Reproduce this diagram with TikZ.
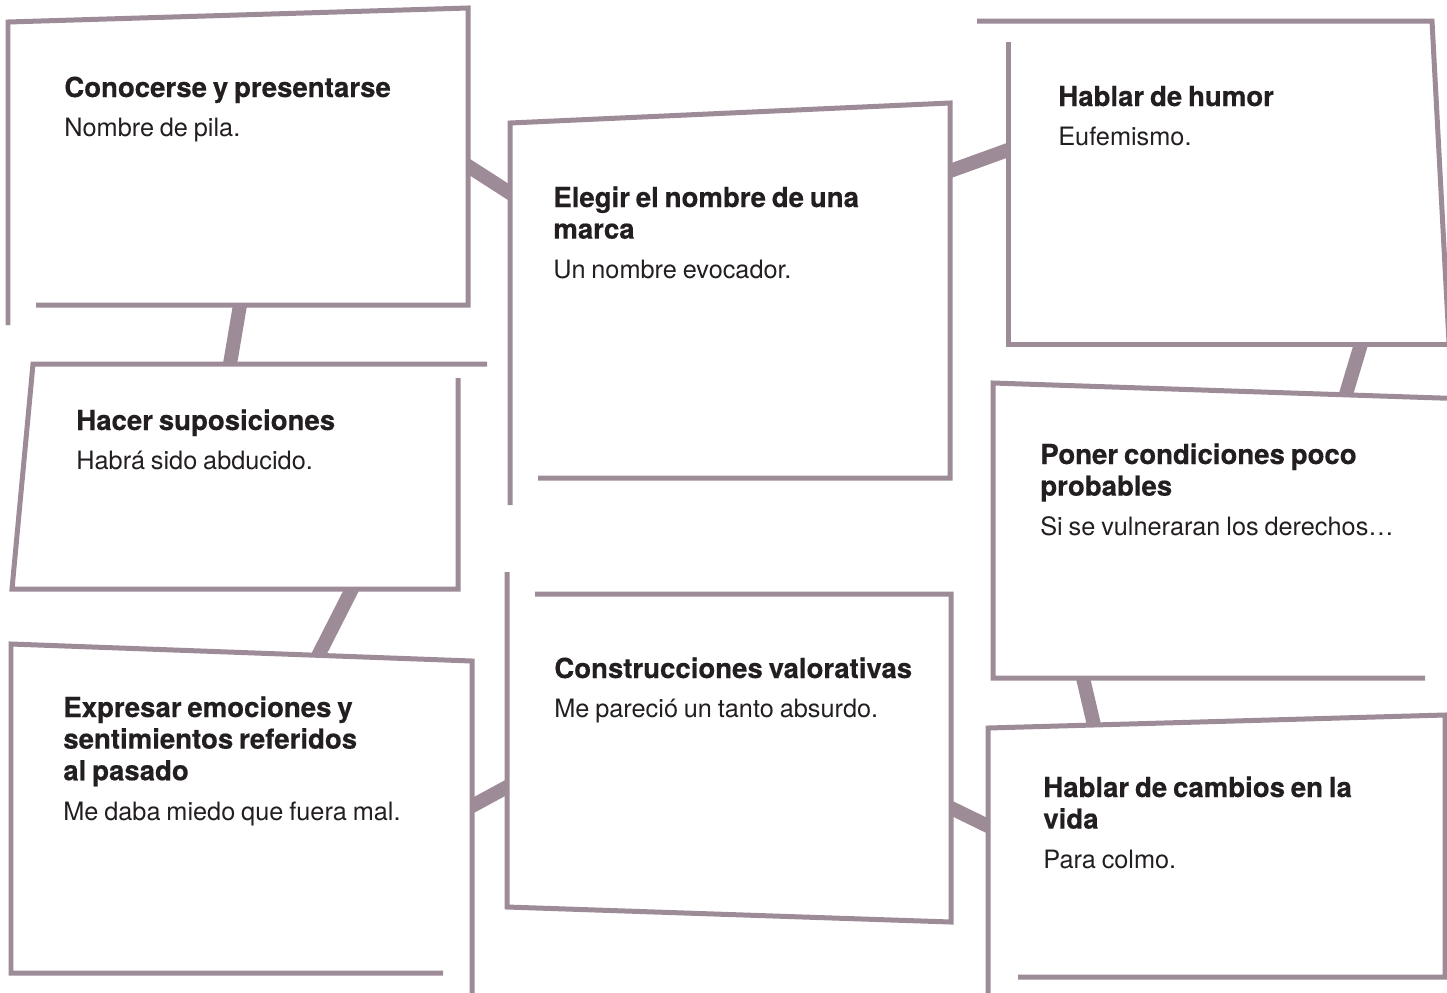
\documentclass[tikz,border=0pt]{standalone}
\usepackage{fontspec}
\setmainfont{TeX Gyre Heros}[BoldFeatures={FakeBold=0.4,WordSpace=1.35}]
\definecolor{edge}{RGB}{157,140,151}
\definecolor{ink}{RGB}{35,31,32}
\newcommand{\boxtitle}[1]{{\fontsize{15.7pt}{18pt}\selectfont\bfseries #1\par}}
\newcommand{\boxsub}[1]{{\fontsize{14.4pt}{22.7pt}\selectfont #1\par}}
\tikzset{
  frame/.style={draw=edge, line width=0.1cm},
  interior/.style={fill=white},
  conn/.style={draw=edge, line width=0.28cm, shorten <=-0.3cm, shorten >=-0.3cm},
  boxtext/.style={anchor=base west, inner sep=0pt, text width=9cm, align=left, text=ink}
}
\begin{document}
\begin{tikzpicture}[x=0.02cm,y=-0.02cm]
\useasboundingbox (0,0) rectangle (1447,992);
\clip (0,0) rectangle (1447,992);
\fill[white] (0,0) rectangle (1447,992);

% connector end points on box edges
\coordinate (a12) at (468,166);  \coordinate (b12) at (510,193);
\coordinate (a23) at (950,171);  \coordinate (b23) at (1008,150);
\coordinate (a14) at (240,305);  \coordinate (b14) at (230,364);
\coordinate (a45) at (352,589);  \coordinate (b45) at (320,652);
\coordinate (a56) at (472,806);  \coordinate (b56) at (507,787);
\coordinate (a37) at (1361,344); \coordinate (b37) at (1346,394);
\coordinate (a78) at (1083,678); \coordinate (b78) at (1094,725);
\coordinate (a68) at (951,808);  \coordinate (b68) at (988,826);

% connectors
\draw[conn] (a12) -- (b12);
\draw[conn] (a23) -- (b23);
\draw[conn] (a14) -- (b14);
\draw[conn] (a45) -- (b45);
\draw[conn] (a56) -- (b56);
\draw[conn] (a37) -- (b37);
\draw[conn] (a78) -- (b78);
\draw[conn] (a68) -- (b68);

% box interiors
\fill[interior] (8,22) -- (468,8) -- (468,305) -- (8,305) -- cycle;
\fill[interior] (510,123) -- (950,103) -- (950,478) -- (510,478) -- cycle;
\fill[interior] (1008,21) -- (1432,21) -- (1449,344) -- (1008,344) -- cycle;
\fill[interior] (33,364) -- (458,364) -- (458,589) -- (12,589) -- cycle;
\fill[interior] (11,644) -- (472,661) -- (472,973) -- (11,973) -- cycle;
\fill[interior] (507,594) -- (951,594) -- (951,922) -- (507,907) -- cycle;
\fill[interior] (993,383) -- (1470,399) -- (1470,678) -- (993,678) -- cycle;
\fill[interior] (988,728) -- (1445,715) -- (1445,977) -- (988,977) -- cycle;

% box frames
\draw[frame] (8,325) -- (8,22) -- (468,8) -- (468,305) -- (36,305);
\draw[frame] (510,505) -- (510,123) -- (950,103) -- (950,478) -- (538,478);
\draw[frame] (977,21) -- (1432,21) -- (1451,380);
\draw[frame] (1008,42) -- (1008,344) -- (1470,344);
\draw[frame] (487,364) -- (33,364) -- (12,589) -- (458,589) -- (458,378);
\draw[frame] (443,973) -- (11,973) -- (11,644) -- (472,661) -- (472,1000);
\draw[frame] (535,594) -- (951,594) -- (951,922) -- (507,907) -- (507,572);
\draw[frame] (1425,678) -- (993,678) -- (993,383) -- (1470,399);
\draw[frame] (1018,977) -- (1445,977) -- (1445,715) -- (988,728) -- (988,1000);

% texts
\node[boxtext] (t1) at (64,97) {\boxtitle{Conocerse y presentarse}\boxsub{Nombre de pila.}};
\node[boxtext] (t2) at (553,207) {\boxtitle{Elegir el nombre de una\\marca}\boxsub{Un nombre evocador.}};
\node[boxtext] (t3) at (1058,106) {\boxtitle{Hablar de humor}\boxsub{Eufemismo.}};
\node[boxtext] (t4) at (76,430) {\boxtitle{Hacer suposiciones}\boxsub{Habrá sido abducido.}};
\node[boxtext] (t5) at (63,717) {\boxtitle{Expresar emociones y\\sentimientos referidos\\al pasado}\boxsub{Me daba miedo que fuera mal.}};
\node[boxtext] (t6) at (554,678) {\boxtitle{Construcciones valorativas}\boxsub{Me pareció un tanto absurdo.}};
\node[boxtext] (t7) at (1040,464) {\boxtitle{Poner condiciones poco\\probables}\boxsub{Si se vulneraran los derechos…}};
\node[boxtext] (t8) at (1043,797) {\boxtitle{Hablar de cambios en la\\vida}\boxsub{Para colmo.}};
\end{tikzpicture}
\end{document}
